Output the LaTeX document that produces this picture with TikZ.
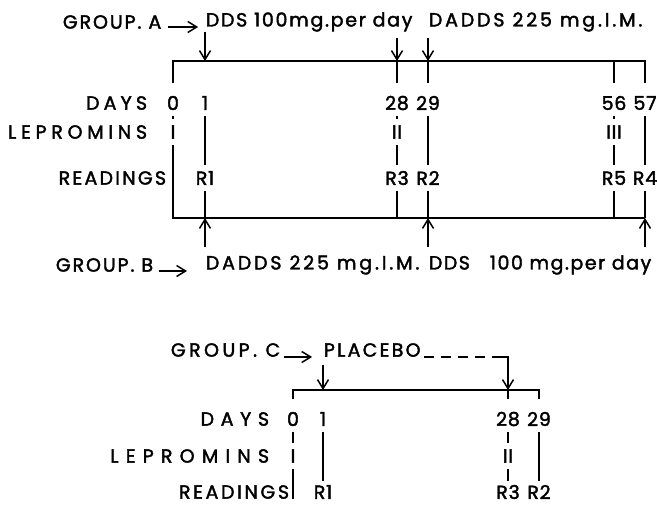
\documentclass[tikz,border=0pt]{standalone}
\usepackage{fontspec}
\setmainfont{Poppins}
\newfontfamily\lbl[FakeBold=2]{Poppins}
\usetikzlibrary{arrows.meta}
\begin{document}
\begin{tikzpicture}[x=1pt,y=-1pt,
  line width=1.8pt,
  txt/.style={font=\lbl\fontsize{19}{21}\selectfont\addfontfeature{LetterSpace=#1}, inner sep=0pt},
  txt/.default=10,
  num/.style={txt=4, inner xsep=1pt, inner ysep=5pt},
  tip/.style={-{Straight Barb[length=9pt,width=11pt,line width=1.5pt]}},
  tick/.style={shorten >=7pt},
  dashline/.style={dash pattern=on 10pt off 7pt},
]
\useasboundingbox (0,0) rectangle (657,507);

% ---------------- Group A ----------------
\node[txt=10,anchor=west] (gA) at (62,22) {GROUP. A};
\node[txt=9,anchor=west] (dA1) at (205,22) {DDS 100mg.per day};
\node[txt=15,anchor=west] (dA2) at (428,22) {DADDS 225 mg.I.M.};
\draw[tip] ([xshift=6pt,yshift=-5pt]gA.east) -- ++(30,0);

\node[txt=22,anchor=east] (daysA) at (148,103) {DAYS};
\node[txt=25,anchor=east] (lepA) at (148,132) {LEPROMINS};
\node[txt=12,anchor=east] (readA) at (167,178) {READINGS};

\node[num] (a0) at (173,103) {0};
\node[num] (a1) at (205,103) {1};
\node[num] (a28) at (397,103) {28};
\node[num] (a29) at (428,103) {29};
\node[num] (a56) at (614,103) {56};
\node[num] (a57) at (645,103) {57};

\node[num] (l0) at (173,132) {I};
\node[num] (l28) at (397,132) {II};
\node[num] (l56) at (614,132) {III};

\node[num] (r1) at (205,178) {R1};
\node[num] (r3) at (397,178) {R3};
\node[num] (r2) at (428,178) {R2};
\node[num] (r5) at (614,178) {R5};
\node[num] (r4) at (645,178) {R4};

\coordinate (ta0) at (173,61);
\coordinate (ta1) at (205,61);
\coordinate (ta28) at (397,61);
\coordinate (ta29) at (428,61);
\coordinate (ta56) at (614,61);
\coordinate (ta57) at (645,61);
\coordinate (ba0) at (173,218);
\coordinate (ba1) at (205,218);
\coordinate (ba28) at (397,218);
\coordinate (ba29) at (428,218);
\coordinate (ba56) at (614,218);
\coordinate (ba57) at (645,218);

% top line
\draw[shorten <=7pt, shorten >=7pt] (a0.north) -- (ta0) -- (ta57) -- (a57.north);
\draw[tick] (ta28) -- (a28.north);
\draw[tick] (ta29) -- (a29.north);
\draw[tick] (ta56) -- (a56.north);
% drug arrows top
\draw[tip] (dA1.south west) -- (ta1);
\draw[tip] (ta28 |- dA1.south) ++(0,6) -- (ta28);
\draw[tip] ([yshift=-6pt]dA2.south west) -- (ta29);

% verticals
\draw (a0.south) -- (l0.north);
\draw (l0.south) -- (ba0) -- (ba57);
\draw (a1.south) -- (r1.north);
\draw (r1.south) -- (ba1);
\draw (a28.south) -- (l28.north);
\draw (l28.south) -- (r3.north);
\draw (r3.south) -- (ba28);
\draw (a29.south) -- (r2.north);
\draw (r2.south) -- (ba29);
\draw (a56.south) -- (l56.north);
\draw (l56.south) -- (r5.north);
\draw (r5.south) -- (ba56);
\draw (a57.south) -- (r4.north);
\draw (r4.south) -- (ba57);

% ---------------- Group B ----------------
\node[txt=10,anchor=west] (gB) at (55,265) {GROUP. B};
\node[txt=15,anchor=west] (dB1) at (205,265) {DADDS 225 mg.I.M.};
\node[txt=8,anchor=west] (dB2) at (428,265) {DDS\hspace{20pt}100 mg.per day};
\draw[tip] ([xshift=5pt,yshift=-6pt]gB.east) -- ++(28,0);
\draw[tip] ([yshift=8pt]dB1.north west) -- (ba1);
\draw[tip] ([yshift=8pt]dB2.north west) -- (ba29);
\draw[tip] ([yshift=8pt]ba57 |- dB2.north) -- (ba57);

% ---------------- Group C ----------------
\node[txt=18,anchor=west] (gC) at (170,350) {GROUP. C};
\node[txt=12,anchor=west] (pC) at (323,350) {PLACEBO};
\draw[tip] ([xshift=3pt,yshift=-7pt]gC.east) -- ++(28,0);

\node[txt=35,anchor=east] (daysC) at (270,419) {DAYS};
\node[txt=38,anchor=east] (lepC) at (270,456) {LEPROMINS};
\node[txt=14,anchor=east] (readC) at (290,492) {READINGS};

\node[num] (c0) at (293,419) {0};
\node[num] (c1) at (323,419) {1};
\node[num] (c28) at (508,419) {28};
\node[num] (c29) at (539,419) {29};
\node[num] (lc0) at (293,456) {I};
\node[num] (lc28) at (508,456) {II};
\node[num, inner ysep=3pt] (rc1) at (323,492) {R1};
\node[num, inner ysep=3pt] (rc3) at (508,492) {R3};
\node[num, inner ysep=3pt] (rc2) at (539,492) {R2};

\coordinate (tc0) at (293,390);
\coordinate (tc1) at (323,390);
\coordinate (tc28) at (508,390);
\coordinate (tc29) at (539,390);
\coordinate (cc) at (508,357);
\coordinate (bc0) at (293,499);

\draw[shorten <=7pt, shorten >=7pt] (c0.north) -- (tc0) -- (tc29) -- (c29.north);
\draw[tick] (tc28) -- (c28.north);
\draw[tip] ([yshift=-7pt]pC.south west) -- (tc1);
\draw[dashline] ([xshift=3pt,yshift=-7pt]pC.east) -- ([xshift=-12pt]cc);
\draw[tip] ([xshift=-12pt]cc) -- (cc) -- (tc28);

\draw (c0.south) -- (lc0.north);
\draw (lc0.south) -- (bc0);
\draw (c1.south) -- (rc1.north);
\draw (c28.south) -- (lc28.north);
\draw (lc28.south) -- (rc3.north);
\draw (c29.south) -- (rc2.north);
\end{tikzpicture}
\end{document}
